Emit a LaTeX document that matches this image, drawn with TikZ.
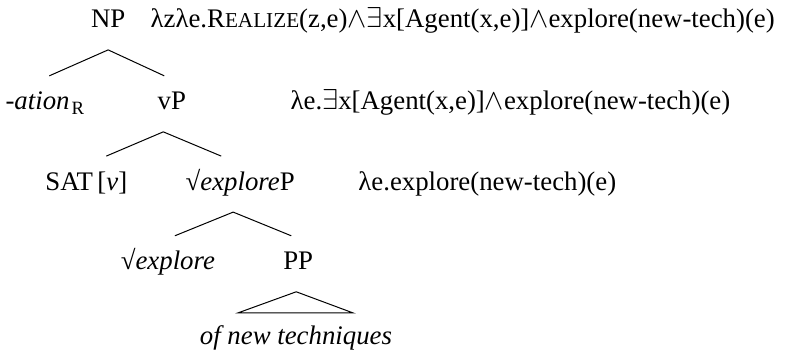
\documentclass[tikz,border=0pt]{standalone}
\usepackage{fontspec}
\setmainfont{Liberation Serif}
\usepackage{tikz, xcolor}
\usetikzlibrary{positioning}

\newcommand{\smallcap}[1]{{\fontsize{10.6}{12}\selectfont #1}}

\begin{document}
\begin{tikzpicture}[
label/.style={anchor=base, inner sep=0pt, font=\fontsize{13.4}{15}\selectfont},
meaning/.style={label, anchor=base west},
branch/.style={line width=0.5pt, color=black}]

\useasboundingbox (0, 0) rectangle (13.81, -6.24);

% tree labels
\node[label]
(np) at (1.90, -0.49)
{NP};

\node[meaning]
(np-sem) at (2.64, -0.49)
{λzλe.R\smallcap{EALIZE}(z,e)$\wedge\exists$x[Agent(x,e)]$\wedge$explore(new-tech)(e)};

\node[label, anchor=base west]
(ation) at (0.09, -1.93)
{-\textit{ation\/}\kern1pt\textsubscript{R}};

\node[label]
(vp) at (3.02, -1.93)
{vP};

\node[meaning]
(vp-sem) at (5.10, -1.93)
{λe.$\exists$x[Agent(x,e)]$\wedge$explore(new-tech)(e)};

\node[label, anchor=base west]
(sat) at (0.79, -3.34)
{SAT\,[\textit{v}]};

\node[label]
(rootp) at (4.22, -3.34)
{√\textit{explore\/}P};

\node[meaning]
(rootp-sem) at (6.29, -3.34)
{λe.explore(new-tech)(e)};

\node[label]
(root) at (2.95, -4.74)
{√\textit{explore}};

\node[label]
(pp) at (5.24, -4.74)
{PP};

\node[label]
(obj) at (5.20, -6.06)
{\textit{of new techniques}};

% branches
\draw[branch] ([xshift=2pt, yshift=17pt]ation.base) -- ([yshift=-11pt]np.base) -- ([xshift=-3.8pt, yshift=17pt]vp.base);
\draw[branch] ([xshift=10pt, yshift=17pt]sat.base) -- ([xshift=-4.3pt, yshift=-11pt]vp.base) -- ([xshift=-9.5pt, yshift=17pt]rootp.base);
\draw[branch] ([xshift=3.5pt, yshift=17pt]root.base) -- ([xshift=-3.5pt, yshift=-11pt]rootp.base) -- ([xshift=-3.5pt, yshift=17pt]pp.base);
\draw[branch] ([xshift=-29pt, yshift=16pt]obj.base) -- ([xshift=-1pt, yshift=-11pt]pp.base) -- ([xshift=28.5pt, yshift=16pt]obj.base) -- cycle;

\end{tikzpicture}
\end{document}
